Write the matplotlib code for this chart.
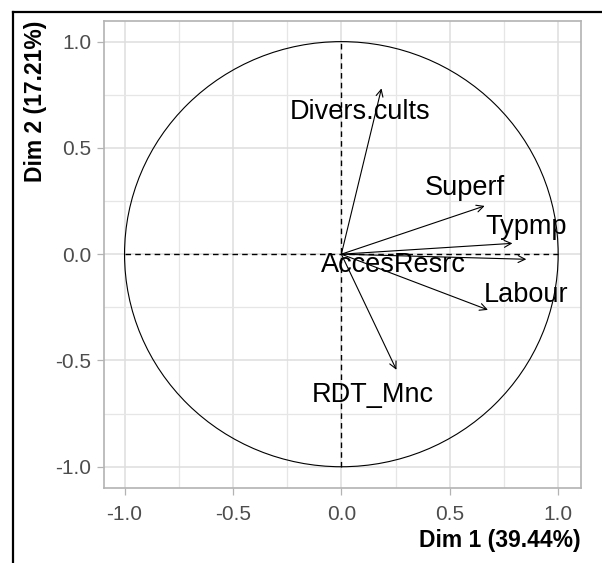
import numpy as np
import matplotlib
matplotlib.use("Agg")
import matplotlib.pyplot as plt
from matplotlib.patches import Circle
from matplotlib.lines import Line2D

plt.rcParams['font.family'] = ['Liberation Sans', 'DejaVu Sans']

# variable coordinates on Dim 1 / Dim 2
variables = ['Divers.cults', 'Superf', 'Typmp', 'AccesResrc', 'Labour', 'RDT_Mnc']
dim1 = [0.185, 0.661, 0.789, 0.853, 0.676, 0.254]
dim2 = [0.780, 0.227, 0.051, -0.024, -0.262, -0.544]

# where the labels were drawn
label_x = [0.085, 0.569, 0.853, 0.239, 0.853, 0.147]
label_y = [0.670, 0.311, 0.129, -0.051, -0.192, -0.662]

ticks = [-1.0, -0.5, 0.0, 0.5, 1.0]
minor_ticks = [-0.75, -0.25, 0.25, 0.75]

W, H = 602, 563
fig = plt.figure(figsize=(W / 100, H / 100), dpi=100)
ax = fig.add_axes([103.5 / W, 1 - 488 / H, (580.5 - 103.5) / W, (488 - 21) / H])

ax.set_xlim(-1.097, 1.103)
ax.set_ylim(-1.1, 1.097)

# grid like theme_light
ax.set_xticks(ticks)
ax.set_yticks(ticks)
ax.set_xticks(minor_ticks, minor=True)
ax.set_yticks(minor_ticks, minor=True)
ax.grid(True, which='major', color='#DEDEDE', lw=1.1)
ax.grid(True, which='minor', color='#E6E6E6', lw=0.9)
ax.set_axisbelow(True)
ax.set_xticklabels(['%.1f' % t for t in ticks])
ax.set_yticklabels(['%.1f' % t for t in ticks])
ax.tick_params(which='major', length=5, width=0.9, color='#B3B3B3',
               labelcolor='#4D4D4D', labelsize=15)
ax.tick_params(axis='x', pad=7)
ax.tick_params(axis='y', pad=4)
ax.tick_params(which='minor', length=0)
for s in ax.spines.values():
    s.set_color('#B3B3B3')
    s.set_linewidth(1.2)

# correlation circle and dashed axes
ax.add_patch(Circle((0, 0), 1, fill=False, color='black', lw=0.8))
ax.plot([-1, 1], [0, 0], color='black', ls='--', lw=1.0, dashes=(4, 3))
ax.plot([0, 0], [-1, 1], color='black', ls='--', lw=1.0, dashes=(4, 3))

for x, y in zip(dim1, dim2):
    ax.annotate('', xy=(x, y), xytext=(0, 0),
                arrowprops=dict(arrowstyle='->,head_length=0.5,head_width=0.25',
                                color='black', lw=0.8, shrinkA=0, shrinkB=0))

for name, x, y in zip(variables, label_x, label_y):
    ax.text(x, y, name, ha='center', va='center', fontsize=19.5, color='black')

ax.set_xlabel('Dim 1 (39.44%)', fontsize=16.5, fontweight='bold', loc='right', labelpad=4)
ax.set_ylabel('Dim 2 (17.21%)', fontsize=16.5, fontweight='bold', loc='top', labelpad=6)

# black frame (only top and left edges are in view)
left, top = 12.5 / W, 1 - 11.5 / H
fig.lines.append(Line2D([left, left], [0, top], transform=fig.transFigure,
                        color='black', lw=1.6))
fig.lines.append(Line2D([left, 1], [top, top], transform=fig.transFigure,
                        color='black', lw=1.6))

fig.savefig('out.png', dpi=100)
